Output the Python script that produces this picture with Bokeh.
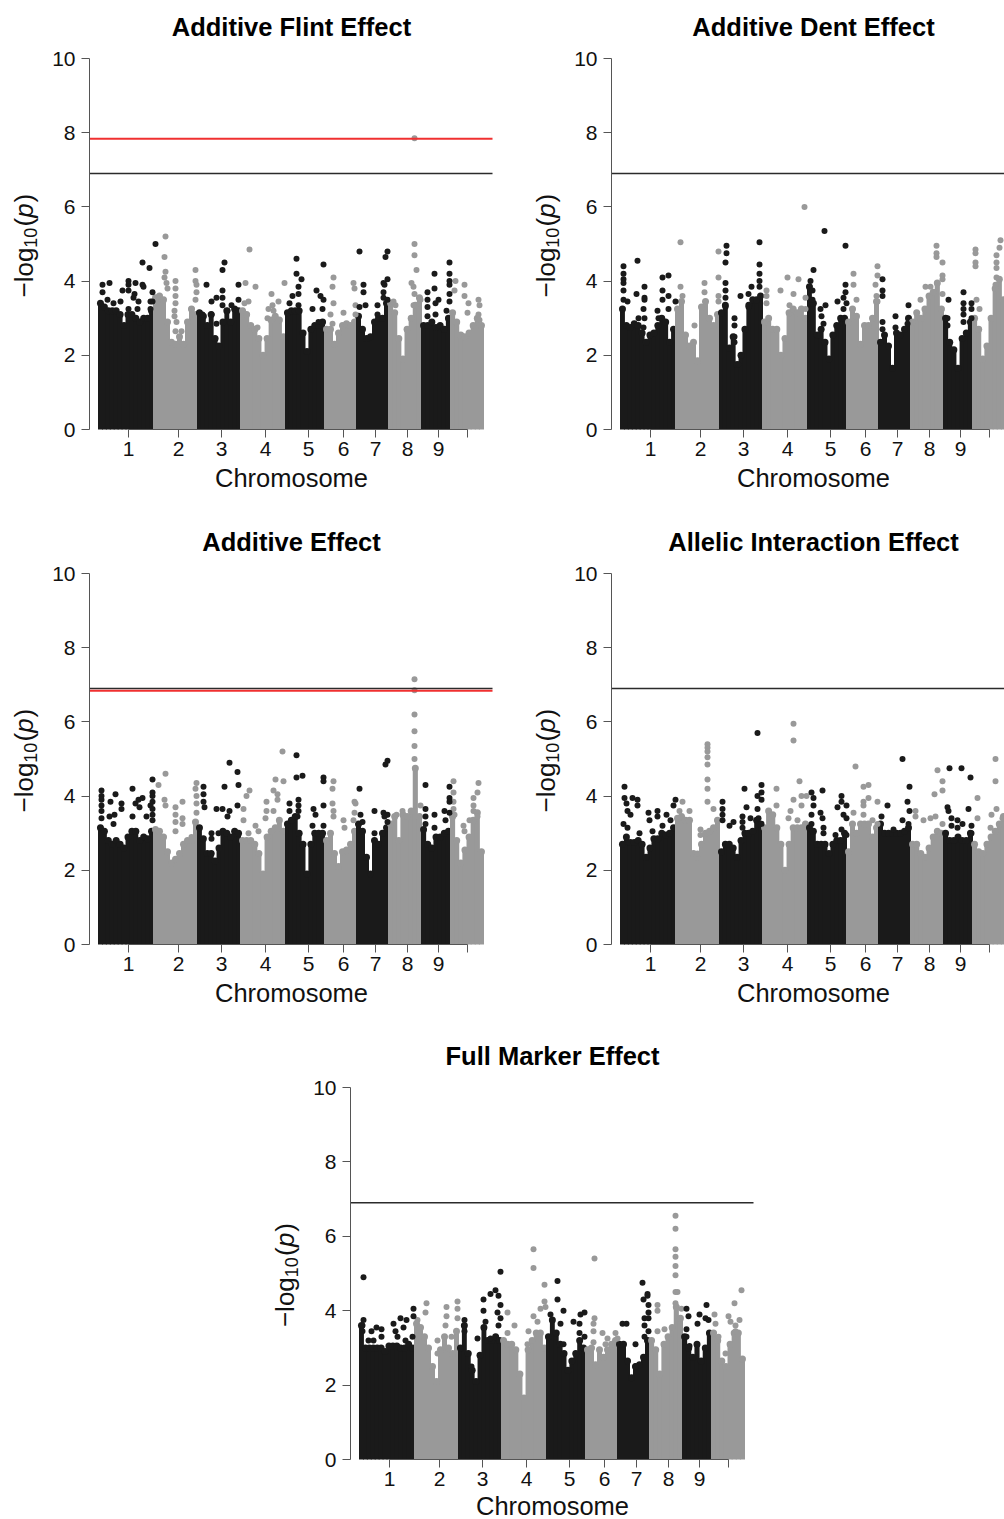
from bokeh.embed import file_html
from bokeh.resources import INLINE
from bokeh.layouts import column, row
from bokeh.models import FixedTicker, Label, Range1d, Spacer
from bokeh.plotting import figure

# ---- shared axes -----------------------------------------------------------
CHR_START = [0, 55, 99, 142, 187, 226, 258, 290, 323, 352]
CHR_END = [55, 99, 142, 187, 226, 258, 290, 323, 352, 385]
TICK_POS = [30, 80, 123, 167, 210, 245, 277, 309, 340, 369]
TICK_LABELS = ["1", "2", "3", "4", "5", "6", "7", "8", "9", ""]
Y_TICKS = [0, 2, 4, 6, 8, 10]
THRESHOLD = 6.9
BLACK = "#1a1a1a"
GRAY = "#999999"

# ---- Additive Flint -----------------------------------------------------------
FLINT_TOP = [
    [3.4,3.3,3.2,3.2,3.2,3.1,2.8,3.1,3.1,3.0,2.9,3.0,3.0,3.2],
    [3.55,3.6,3.5,2.9,2.35,2.3,2.5,2.3,2.9,3.25,3.1],
    [3.15,3.05,2.8,3.1,2.45,2.25,2.9,3.2,2.9,3.25,3.2],
    [3.2,3.1,2.8,2.7,2.45,2.0,2.45,2.95,3.05,2.95,2.5],
    [3.15,3.2,3.2,3.2,2.6,2.1,2.7,2.8,2.8,2.9],
    [2.7,2.7,2.3,2.6,2.8,2.85,2.8,2.9],
    [3.05,2.7,2.45,2.5,2.9,3.0,3.0,3.4],
    [3.4,3.15,2.45,1.9,2.7,3.0,3.35,3.55],
    [2.8,2.8,2.9,2.75,2.8,2.7,3.0],
    [3.15,2.9,2.55,2.5,2.6,2.8,3.0,2.8],
]
FLINT_BX = [4,11,4,24,30,30,30,37,44,45,36,35,9,15,22,30,40,39,54,52,52,54,44,51,57,
            108,126,124,124,124,124,118,113,133,140,140,104,113,118,129,
            198,198,203,200,200,194,191,200,225,218,222,225,214,224,224,220,
            261,265,265,267,261,287,289,289,285,286,285,285,289,279,279,
            351,336,351,351,351,336,329,329,329,340,337,351,351,348,337,329]
FLINT_BY = [3.9,3.95,3.7,3.75,4.0,3.9,3.75,3.95,3.9,3.85,3.65,3.55,3.5,3.4,3.45,3.25,3.45,3.25,3.7,3.45,3.25,3.45,4.5,4.35,5.0,
            3.9,4.5,4.3,3.75,3.55,3.35,3.55,3.45,3.35,3.9,3.5,3.1,3.1,2.85,3.2,
            4.6,4.2,4.05,3.85,3.65,3.6,3.4,3.35,4.45,3.75,3.6,3.5,3.25,3.25,2.9,2.9,
            4.8,3.9,3.7,3.35,3.3,4.65,4.8,4.05,3.95,3.9,3.7,3.55,3.5,3.35,3.1,
            4.5,4.2,4.2,4.0,3.9,3.8,3.7,3.5,3.3,3.5,3.4,3.65,3.45,3.2,3.1,3.05]
FLINT_GX = [67,66,67,66,68,69,77,77,77,77,76,76,78,77,83,97,97,98,98,97,93,
            151,147,157,186,173,180,150,146,174,170,175,169,159,
            235,234,235,232,234,245,255,256,257,257,
            316,316,318,313,315,316,322,315,297,295,316,
            357,366,366,356,370,369,380,381,380,381]
FLINT_GY = [5.2,4.65,4.25,4.1,3.95,3.8,4.0,3.8,3.6,3.4,3.2,3.05,2.9,2.65,2.65,4.3,4.0,3.9,3.7,3.5,3.25,
            4.85,3.95,3.85,3.95,3.65,3.45,3.45,3.4,3.35,3.25,3.2,3.0,2.75,
            4.1,3.85,3.4,3.1,2.85,3.15,3.95,3.8,3.35,3.1,
            5.0,4.7,4.3,3.95,3.85,3.65,3.5,3.35,3.35,3.45,7.85,
            4.0,3.9,3.6,3.75,3.4,3.15,3.5,3.35,3.1,2.95]

# ---- Additive Dent ------------------------------------------------------------
DENT_TOP = [
    [3.25,2.8,2.75,2.85,2.8,2.6,2.35,2.55,2.6,2.8,3.0,2.9,2.35,2.7],
    [3.25,3.45,2.55,2.25,2.35,1.85,3.3,3.45,3.0,2.8,3.1],
    [3.15,3.35,2.2,2.5,1.75,2.0,2.7,3.35,3.5,3.5,3.6],
    [2.9,3.0,2.7,2.7,2.0,2.45,3.15,3.25,3.15,3.25,3.0],
    [3.85,3.4,2.55,2.7,2.35,1.9,2.55,2.8,3.0,3.0],
    [2.9,3.25,3.05,2.3,2.8,2.8,3.0,3.45],
    [2.35,2.55,2.25,1.65,2.6,2.55,2.7,3.0],
    [2.9,3.15,3.0,3.25,3.6,3.7,3.95,3.25],
    [3.0,2.35,2.15,1.65,2.45,2.6,2.9],
    [3.0,2.7,1.9,2.25,3.0,3.8,4.05,3.5],
]
DENT_BX = [3,3,3,3,3,3,7,17,16,24,24,24,23,24,42,48,42,48,42,37,48,55,18,23,38,
           106,106,105,105,105,105,105,114,114,114,114,120,139,139,139,139,131,139,128,128,118,
           204,225,193,190,192,192,205,200,201,203,225,225,217,223,226,223,
           262,262,262,262,262,275,275,288,287,
           328,343,343,343,343,343,351,351,351,327,327]
DENT_BY = [4.4,4.2,4.05,3.95,3.75,3.5,3.45,4.55,3.65,3.85,3.55,3.5,3.25,3.0,4.1,4.15,3.75,3.6,3.5,3.2,3.25,3.45,3.0,2.75,3.0,
           4.95,4.75,4.5,3.95,3.75,3.55,3.3,3.0,2.8,2.5,2.35,3.6,5.05,4.45,4.2,4.0,3.85,3.85,3.65,3.3,1.75,
           5.35,4.95,4.3,4.0,3.75,3.5,3.35,3.25,3.05,2.85,3.9,3.7,3.45,3.55,3.4,3.25,
           4.05,3.75,3.6,2.9,2.7,3.05,2.75,3.35,2.85,
           3.5,3.7,3.4,3.25,3.1,2.9,3.4,3.25,3.0,3.0,2.8]
DENT_GX = [60,60,62,74,84,84,98,98,98,98,
           184,167,178,160,146,146,146,173,169,185,185,
           233,233,236,257,257,255,256,257,
           316,316,316,322,322,322,322,305,300,310,
           355,355,355,355,356,359,380,379,376,376,376,376,375]
DENT_GY = [5.05,3.85,3.6,2.8,3.95,3.7,4.8,4.1,3.6,3.45,
           6.0,4.1,4.05,3.75,3.75,3.6,3.4,3.65,3.35,3.55,3.25,
           4.2,3.9,3.5,4.4,4.15,3.9,3.6,3.45,
           4.95,4.75,4.65,4.5,4.15,4.05,3.65,3.85,3.5,3.85,
           4.85,4.75,4.5,4.4,3.5,3.25,5.1,4.9,4.7,4.5,4.35,4.1,3.9]

# ---- Additive -----------------------------------------------------------------
ADD_TOP = [
    [3.15,3.05,2.8,2.7,2.8,2.7,2.6,2.9,3.05,3.05,2.8,2.9,2.85,3.05],
    [3.1,3.05,2.9,2.5,2.2,2.3,2.45,2.7,2.8,2.8,3.3],
    [3.15,2.85,2.45,2.45,2.25,2.6,3.05,3.0,2.9,3.05,3.0],
    [2.8,2.8,2.8,2.7,2.45,1.9,2.9,3.05,3.15,3.35,3.05],
    [3.25,3.35,3.45,3.0,2.7,1.9,2.7,3.0,3.0,3.0],
    [2.8,3.0,2.45,2.1,2.5,2.55,2.7,3.05],
    [3.25,3.05,2.35,1.9,2.8,2.7,3.0,3.15],
    [3.25,3.45,2.8,3.5,3.45,3.6,4.75,3.45],
    [3.1,2.7,2.6,2.9,2.9,3.0,3.05],
    [3.45,2.8,2.2,2.55,2.9,3.35,3.55,2.5],
]
ADD_BX = [3,3,3,3,3,3,12,17,11,16,15,23,23,34,37,40,44,41,34,48,52,54,54,54,54,54,54,54,
          105,105,105,106,131,139,126,140,118,124,131,139,129,113,113,120,
          198,204,198,200,191,200,191,200,199,225,225,225,215,217,214,225,
          261,262,264,276,287,289,285,289,289,286,276,
          327,327,336,327,327,336,346,351,351,351,351,347]
ADD_BY = [4.15,4.0,3.9,3.75,3.6,3.4,3.85,4.05,3.45,3.5,3.25,3.8,3.65,4.2,3.8,3.9,3.95,3.7,3.45,3.45,3.75,4.45,4.1,4.0,3.85,3.65,3.5,3.35,
          4.25,4.05,3.85,3.7,4.9,4.65,4.25,4.3,3.65,3.65,3.6,3.75,3.45,3.0,2.85,3.0,
          5.1,4.55,4.5,3.9,3.8,3.75,3.6,3.6,3.45,4.5,4.4,3.75,3.65,3.5,3.2,3.2,
          4.2,3.5,3.3,3.6,4.85,4.95,3.55,3.5,3.3,3.45,3.0,
          4.3,3.65,3.5,3.45,3.25,3.15,3.6,3.55,4.25,3.95,3.85,3.35]
ADD_GX = [67,60,66,67,77,84,77,77,84,84,77,98,97,98,98,98,93,
          184,177,185,151,148,175,179,179,168,168,175,167,145,145,157,160,150,
          235,234,234,235,235,245,246,256,257,256,255,
          316,316,316,316,316,316,304,298,322,
          355,355,355,355,356,365,366,380,379,375,375,375,379,371]
ADD_GY = [4.6,4.3,3.9,3.75,3.7,3.85,3.5,3.3,3.4,3.25,3.05,4.35,4.2,4.0,3.8,3.55,2.9,
          5.2,4.45,4.4,4.15,4.0,4.15,4.05,3.9,3.85,3.6,3.6,3.4,3.65,3.35,3.2,3.05,3.0,
          4.4,4.2,3.8,3.6,3.45,3.35,3.15,3.85,3.8,3.55,3.35,
          7.15,6.85,6.2,5.75,5.35,5.0,3.6,3.5,3.75,
          4.4,4.1,3.85,3.65,3.5,3.2,3.05,4.35,4.1,3.95,3.75,3.6,3.45,3.35]

# ---- Allelic Interaction --------------------------------------------------------
INT_TOP = [
    [2.7,2.9,2.75,2.75,2.8,2.7,2.35,2.6,2.85,2.85,3.0,2.95,3.0,3.15],
    [3.4,3.45,3.35,3.35,2.45,2.35,2.7,3.0,3.05,3.15,3.35],
    [2.5,2.7,2.7,2.6,2.35,2.8,3.0,3.0,3.05,3.35,3.25],
    [3.15,3.6,3.5,3.15,2.7,2.0,2.7,3.15,3.15,3.15,3.25],
    [3.15,3.05,2.7,2.7,2.7,2.45,2.7,2.8,2.8,3.0],
    [2.5,3.25,3.0,3.25,3.25,3.25,2.9,3.15],
    [3.25,3.0,3.0,3.0,3.0,3.0,3.05,3.15],
    [2.7,2.7,2.45,2.35,2.6,2.9,3.05,3.0],
    [3.0,2.8,2.8,2.9,2.8,2.8,3.0],
    [2.7,2.5,2.45,2.7,2.9,3.05,3.25,3.45],
]
INT_BX = [4,4,6,7,10,3,7,12,17,17,28,37,29,37,46,42,50,53,55,19,32,
          102,102,102,102,113,109,124,126,122,122,122,130,137,141,141,141,137,138,141,137,
          191,193,193,191,191,202,200,202,203,203,221,221,226,217,223,226,221,215,226,
          282,289,287,267,261,289,282,288,273,
          329,341,350,348,327,328,331,331,337,342,351,351,337]
INT_BY = [4.25,3.95,3.8,3.6,3.5,3.25,3.15,3.95,3.9,3.75,3.55,3.6,3.35,3.45,3.5,3.2,3.35,3.75,3.9,3.0,3.05,
          3.85,3.65,3.5,3.35,3.3,3.2,4.2,3.7,3.45,3.3,3.15,3.4,4.0,4.1,4.3,3.9,3.65,3.4,3.25,5.7,
          4.1,3.95,3.75,3.5,3.25,4.15,3.55,3.4,3.15,3.0,4.0,3.85,3.75,3.7,3.5,3.4,3.1,2.95,2.95,
          5.0,4.25,3.85,3.75,3.45,3.6,3.35,3.25,3.1,
          4.75,4.75,4.5,3.65,3.7,3.6,3.4,3.2,3.35,3.25,3.2,3.0,3.15]
INT_GX = [87,87,87,87,87,87,87,87,62,69,93,80,80,97,59,77,
          173,173,179,156,156,173,181,181,170,168,177,186,
          235,243,248,248,243,243,243,233,257,252,257,
          295,295,303,310,315,317,322,322,314,322,
          375,375,357,357,371,376,382,370]
INT_GY = [5.4,5.3,5.2,5.05,4.85,4.45,4.2,3.85,3.85,3.6,3.65,3.1,2.95,3.35,3.6,2.45,
          5.95,5.5,4.4,4.2,3.75,3.9,4.0,3.75,3.6,3.4,3.35,4.0,
          4.8,4.25,4.3,3.95,3.85,3.75,3.5,3.55,3.85,3.35,3.25,
          3.6,3.45,3.35,3.4,3.45,4.7,4.4,4.15,4.05,3.25,
          5.0,4.4,3.95,3.4,3.5,3.65,3.4,3.15]

# ---- Full Marker -----------------------------------------------------------------
FULL_TOP = [
    [3.6,3.0,3.0,3.0,3.0,3.0,2.9,3.05,3.05,3.05,3.0,3.0,3.1,3.0],
    [3.65,3.55,3.3,3.0,2.5,2.1,2.95,3.3,3.0,2.85,3.45],
    [3.0,3.6,2.85,2.4,2.1,2.8,3.55,3.2,3.2,3.3,3.2],
    [3.2,3.1,3.1,2.95,2.3,1.65,2.95,3.2,3.4,3.4,3.0],
    [3.3,3.75,3.4,3.1,2.85,2.4,2.65,2.85,3.2,3.0],
    [2.95,3.0,2.55,2.95,2.75,2.95,3.1,3.2],
    [3.1,3.1,2.65,2.2,2.5,2.55,2.75,3.2],
    [3.2,2.95,2.3,3.1,3.3,3.55,4.1,3.8],
    [3.3,3.0,2.75,3.1,2.65,3.0,3.4],
    [3.4,3.2,2.65,2.5,3.1,3.4,3.4,2.7],
]
FULL_BX = [4,4,3,3,9,12,17,22,22,14,34,41,47,36,44,38,46,53,54,54,
           141,136,131,124,139,141,124,138,141,139,126,105,105,118,112,131,
           198,198,204,191,201,214,225,221,225,220,220,204,
           283,288,288,284,289,289,285,289,285,289,263,267,276,285,276,
           327,329,347,340,338,346,349,327,327,330]
FULL_BY = [4.9,3.75,3.6,3.45,3.2,3.45,3.55,3.5,3.3,3.2,3.65,3.8,3.75,3.45,3.55,3.3,3.2,3.3,4.05,3.85,
           5.05,4.55,4.45,4.3,4.4,4.15,4.0,3.95,3.8,3.6,3.7,3.75,3.45,3.25,2.5,3.25,
           4.8,4.3,4.0,3.9,3.65,3.7,3.95,3.9,3.3,3.65,3.4,3.1,
           4.75,4.4,4.45,4.3,4.15,3.95,3.8,3.8,3.6,3.45,3.65,3.65,3.1,3.3,2.5,
           4.05,3.85,4.15,3.9,3.65,3.8,3.75,3.5,3.3,3.05]
FULL_GX = [67,66,58,87,87,86,98,98,98,78,92,78,
           174,174,185,185,181,186,174,178,155,148,169,148,168,
           235,235,234,234,234,243,248,246,256,258,
           316,316,316,316,316,316,316,318,316,298,298,305,298,322,
           382,375,380,369,371,355,356,359,366,376,376]
FULL_GY = [4.2,3.95,3.75,4.1,3.85,3.6,4.25,4.05,3.8,3.2,3.3,2.85,
           5.65,5.15,4.7,4.25,4.05,4.1,3.85,3.7,3.6,3.4,3.45,3.95,3.1,
           5.4,3.8,3.65,3.45,3.15,3.4,3.25,3.1,3.4,3.25,
           6.55,6.2,5.65,5.45,5.2,4.95,4.5,4.5,4.2,4.15,4.0,3.5,3.45,4.05,
           4.55,4.2,3.75,3.85,3.7,3.9,3.65,3.3,2.85,3.6,3.45]

PANELS = [
    ("Additive Flint Effect", FLINT_TOP, FLINT_BX, FLINT_BY, FLINT_GX, FLINT_GY, 7.84),
    ("Additive Dent Effect", DENT_TOP, DENT_BX, DENT_BY, DENT_GX, DENT_GY, None),
    ("Additive Effect", ADD_TOP, ADD_BX, ADD_BY, ADD_GX, ADD_GY, 6.84),
    ("Allelic Interaction Effect", INT_TOP, INT_BX, INT_BY, INT_GX, INT_GY, None),
    ("Full Marker Effect", FULL_TOP, FULL_BX, FULL_BY, FULL_GX, FULL_GY, None),
]
FONT = "Liberation Sans"
X_MIN, X_MAX, X_MID = -9, 394, 193
LEFT_PX = 98      # figure left edge to the first marker, in position units
TOP_PX = 58       # figure top edge to y = 10


def label(p, x, y, text, size, style="normal", align="center", baseline="middle", angle=0, color="#111111"):
    p.add_layout(Label(x=x, y=y, text=text, angle=angle, angle_units="deg",
                       text_font=FONT, text_font_size=size, text_font_style=style,
                       text_color=color, text_align=align, text_baseline=baseline))


def panel(spec, w, h, frame_h, chrom_offset=48.5):
    title, tops, bx, by, gx, gy, red = spec
    u = frame_h / 10                 # pixels per -log10(p) unit
    p = figure(width=w, height=h, output_backend="svg", toolbar_location=None,
               x_range=Range1d(-LEFT_PX, w - LEFT_PX),
               y_range=Range1d(-(h - TOP_PX - frame_h) / u, 10 + TOP_PX / u),
               min_border=0, background_fill_color="white", border_fill_color="white",
               outline_line_color=None)
    p.grid.visible = False

    for i, env in enumerate(tops):
        col = BLACK if i % 2 == 0 else GRAY
        step = (CHR_END[i] - CHR_START[i]) / len(env)
        xs = [CHR_START[i] + (k + 0.5) * step for k in range(len(env))]
        p.vbar(x=xs, top=env, bottom=0, width=step + 1, fill_color=col, line_color=None)
        p.scatter(xs, env, size=7, fill_color=col, line_color=None)
    p.scatter(gx, gy, size=6, fill_color=GRAY, line_color=None)
    p.scatter(bx, by, size=6, fill_color=BLACK, line_color=None)

    p.line([X_MIN, X_MAX], [THRESHOLD, THRESHOLD], line_color="#2b2b2b", line_width=1.6)
    if red is not None:
        p.line([X_MIN, X_MAX], [red, red], line_color="#f03030", line_width=2)

    for ax in (p.xaxis[0], p.yaxis[0]):
        ax.axis_line_color = "#555555"
        ax.axis_line_width = 1
        ax.major_tick_line_color = "#555555"
        ax.major_tick_line_width = 1
        ax.major_tick_out = 8
        ax.major_tick_in = 0
        ax.minor_tick_out = 0
        ax.minor_tick_in = 0
        ax.major_label_text_font = FONT
        ax.major_label_text_font_size = "21px"
        ax.major_label_text_color = "#111111"
    p.yaxis[0].fixed_location = X_MIN
    p.yaxis[0].ticker = FixedTicker(ticks=Y_TICKS)
    p.yaxis[0].bounds = (0, 10)
    p.yaxis[0].major_label_standoff = 6
    p.xaxis[0].fixed_location = 0
    p.xaxis[0].ticker = FixedTicker(ticks=TICK_POS)
    p.xaxis[0].major_label_overrides = {t: l for t, l in zip(TICK_POS, TICK_LABELS)}
    p.xaxis[0].bounds = (TICK_POS[0], TICK_POS[-1])
    p.xaxis[0].major_label_standoff = 4

    label(p, X_MID, 10 + (TOP_PX - 26) / u, title, "25.5px", style="bold", color="#000000")
    label(p, X_MID, -chrom_offset / u, "Chromosome", "25.5px")

    # the y axis title is set in pieces, for the subscript and the italic p
    for txt, x, y, size, style in [("\u2212log", -75, 3.56, "26px", "normal"),
                                   ("10", -68, 4.9, "18px", "normal"),
                                   ("(", -75, 5.47, "26px", "normal"),
                                   ("p", -75, 5.71, "26px", "italic"),
                                   (")", -75, 6.12, "26px", "normal")]:
        label(p, x, y, txt, size, style=style, align="left", baseline="alphabetic", angle=90)
    return p


a = panel(PANELS[0], 522, 515, 371)
b = panel(PANELS[1], 482, 515, 371)
c = panel(PANELS[2], 522, 514, 371)
d = panel(PANELS[3], 482, 514, 371)
e = panel(PANELS[4], 522, 490, 372, chrom_offset=46)
page = column(row(a, b), row(c, d), row(Spacer(width=261, height=10), e),
              styles={"position": "absolute", "left": "0px", "top": "0px"})

open("out.html", "w").write(file_html(page, INLINE))
